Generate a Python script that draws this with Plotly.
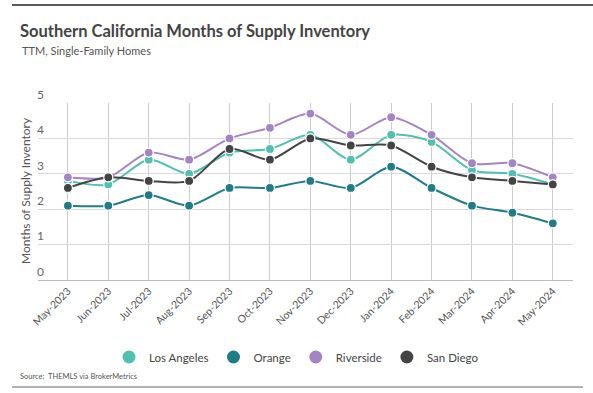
import plotly.graph_objects as go

months = ["May-2023", "Jun-2023", "Jul-2023", "Aug-2023", "Sep-2023", "Oct-2023", "Nov-2023",
          "Dec-2023", "Jan-2024", "Feb-2024", "Mar-2024", "Apr-2024", "May-2024"]
los_angeles = [2.8, 2.7, 3.4, 3.0, 3.6, 3.7, 4.1, 3.4, 4.1, 3.9, 3.1, 3.0, 2.7]
orange = [2.1, 2.1, 2.4, 2.1, 2.6, 2.6, 2.8, 2.6, 3.2, 2.6, 2.1, 1.9, 1.6]
riverside = [2.9, 2.9, 3.6, 3.4, 4.0, 4.3, 4.7, 4.1, 4.6, 4.1, 3.3, 3.3, 2.9]
san_diego = [2.6, 2.9, 2.8, 2.8, 3.7, 3.4, 4.0, 3.8, 3.8, 3.2, 2.9, 2.8, 2.7]
y_ticks = [0, 1, 2, 3, 4, 5]

series = [
    ("Los Angeles", los_angeles, "#4fc1ae"),
    ("Orange", orange, "#1f7d88"),
    ("Riverside", riverside, "#a584c4"),
    ("San Diego", san_diego, "#444444"),
]

FONT = "Lato"
fig = go.Figure()
for name, vals, col in series:
    fig.add_trace(go.Scatter(
        x=months, y=vals, name=name, mode="lines+markers", showlegend=False,
        line=dict(color=col, width=2, shape="spline", smoothing=0.8),
        marker=dict(color=col, size=9, line=dict(color="white", width=1.2)),
    ))
for name, vals, col in series:
    fig.add_trace(go.Scatter(
        x=[None], y=[None], name=name, mode="markers", showlegend=True,
        marker=dict(color=col, size=13),
    ))

W, H = 593, 393
L, R, T, B = 38, 20, 103, 113
fig.update_layout(
    width=W, height=H,
    margin=dict(l=L, r=R, t=T, b=B),
    paper_bgcolor="white", plot_bgcolor="white",
    font=dict(family=FONT, color="#555555"),
    title=dict(
        text="<b>Southern California Months of Supply Inventory</b>",
        x=20 / W, xref="container", xanchor="left",
        y=1 - 31 / H, yref="container", yanchor="middle",
        font=dict(size=16.5, color="#444444", family=FONT),
    ),
    legend=dict(orientation="h", x=0.5, xanchor="center", xref="container",
                y=1 - 357 / H, yref="container", yanchor="middle",
                font=dict(size=11.5, color="#444444", family=FONT),
                itemwidth=30, tracegroupgap=0),
)
fig.update_xaxes(
    type="category", range=[-0.74, 12.5], tickangle=-45,
    showgrid=True, gridcolor="#cccccc", gridwidth=1,
    showline=True, linecolor="#bbbbbb", ticks="",
    tickfont=dict(size=10.5, color="#555555", family=FONT),
)
fig.update_yaxes(
    range=[0, 5], tickvals=y_ticks, showgrid=True, gridcolor="#d9d9d9", gridwidth=1,
    zeroline=False, showline=False, ticks="", ticklabelposition="outside top",
    ticklabelstandoff=-7,
    tickfont=dict(size=12, color="#666666", family=FONT),
)

plot_w = W - L - R
plot_h = H - T - B
def px_x(x):
    return (x - L) / plot_w
def px_y(y):
    return (H - B - y) / plot_h

fig.add_annotation(text="TTM, Single-Family Homes", xref="paper", yref="paper",
                   x=px_x(20), xanchor="left", y=px_y(50), yanchor="middle", showarrow=False,
                   font=dict(size=11, color="#555555"))
fig.add_annotation(text="Months of Supply Inventory", xref="paper", yref="paper",
                   x=px_x(25), xanchor="center", y=px_y(191), yanchor="middle", showarrow=False,
                   textangle=-90, font=dict(size=12, color="#555555", family=FONT))
fig.add_annotation(text="Source:  THEMLS via BrokerMetrics", xref="paper", yref="paper",
                   x=px_x(18), xanchor="left", y=px_y(376), yanchor="middle", showarrow=False,
                   font=dict(size=7.5, color="#555555", family=FONT))
fig.add_shape(type="line", xref="paper", yref="paper", x0=px_x(12), x1=px_x(593), y0=px_y(5), y1=px_y(5),
              line=dict(color="#222222", width=1.5))
fig.add_shape(type="line", xref="paper", yref="paper", x0=px_x(12), x1=px_x(583), y0=px_y(387), y1=px_y(387),
              line=dict(color="#666666", width=1))
fig.write_html("out.html", config={"displayModeBar": False},
               post_script="document.body.style.margin='0';document.body.style.overflow='hidden';")
